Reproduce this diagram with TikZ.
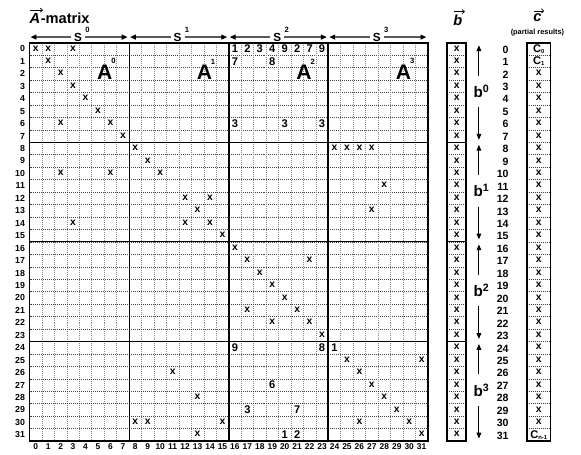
\documentclass[tikz,border=0pt]{standalone}
\usepackage{fontspec}
\setmainfont{Liberation Sans}
\usetikzlibrary{arrows.meta,positioning,calc}

\tikzset{
  entry/.style={font=\fontsize{8.8}{8.8}\selectfont\bfseries, inner sep=0pt},
  digit/.style={font=\fontsize{9.5}{9.5}\selectfont\bfseries, inner sep=0pt},
  colidx/.style={font=\fontsize{7.2}{7.2}\selectfont\bfseries, inner sep=0pt},
  rowidx/.style={font=\fontsize{7.5}{7.5}\selectfont\bfseries, inner sep=0pt, anchor=east},
  vecidx/.style={font=\fontsize{9}{9}\selectfont\bfseries, inner sep=0pt, anchor=east},
  title/.style={font=\fontsize{12.5}{12.5}\selectfont\bfseries, inner sep=0pt, anchor=base},
  supnum/.style={font=\fontsize{6.5}{6.5}\selectfont\bfseries, inner sep=0pt},
  slabel/.style={font=\fontsize{10}{10}\selectfont\bfseries, inner xsep=2.5pt, inner ysep=0pt},
  biga/.style={font=\fontsize{18}{18}\selectfont\bfseries, inner sep=0pt},
  blabel/.style={font=\fontsize{13}{13}\selectfont\bfseries, inner sep=0pt, minimum height=0.93cm},
  hdots/.style={black!75, line width=0.45pt, dash pattern=on 0.6pt off 1.1pt},
  vdots/.style={black!45, line width=0.45pt, dash pattern=on 0.6pt off 1.1pt},
  thinrule/.style={black, line width=0.7pt},
  thickrule/.style={black, line width=1.4pt},
  sarrow/.style={black!65, line width=1.1pt, -{Triangle[length=5pt,width=4.2pt,color=black]}},
  barrow/.style={black, line width=0.8pt, -{Triangle[length=5pt,width=4pt]}},
  vecarrow/.style={black, line width=0.6pt, -{To[length=2.5pt,width=4pt]}},
}

\begin{document}
\begin{tikzpicture}[x=0.3735cm, y=-0.3735cm]
    \useasboundingbox (-2.37,-3.43) rectangle (44.30,33.04);

    % dotted cell grid of the matrix
    \foreach \i in {1,...,31} {
        \draw[vdots] (\i,0) -- (\i,32);
        \draw[hdots] (0,\i) -- (32,\i);
    }
    % block rules
    \foreach \i in {8,16,24}
        \draw[thinrule] (0,\i) -- (32,\i);
    \draw[thinrule] (8,0) -- (8,32);
    \draw[thickrule] (16,0) -- (16,32);
    \draw[thickrule] (24,0) -- (24,32);
    \draw[thickrule] (0,0) rectangle (32,32);

    % row and column numbers
    \foreach \r in {0,...,31}
        \node[rowidx] (row\r) at (-0.35,\r+0.5) {\r};
    \foreach \c in {0,...,31}
        \node[colidx] (col\c) at (\c+0.5,32.45) {\c};

    % nonzero entries
    \foreach \c/\r in {0/0,1/0,3/0,1/1,2/2,3/3,4/4,5/5,2/6,6/6,7/7,
        8/8,24/8,25/8,26/8,27/8,9/9,2/10,6/10,10/10,28/11,12/12,14/12,
        13/13,27/13,3/14,12/14,14/14,15/15,16/16,17/17,22/17,18/18,19/19,
        20/20,17/21,21/21,19/22,22/22,23/23,25/25,31/25,11/26,26/26,27/27,
        13/28,28/28,29/29,8/30,9/30,15/30,26/30,30/30,13/31,31/31}
        \node[entry] (e-\c-\r) at (\c+0.5,\r+0.45) {x};
    \foreach \c/\r/\v in {16/0/1,17/0/2,18/0/3,19/0/4,20/0/9,21/0/2,22/0/7,
        23/0/9,16/1/7,19/1/8,16/6/3,20/6/3,23/6/3,16/24/9,23/24/8,24/24/1,
        19/27/6,17/29/3,21/29/7,20/31/1,21/31/2}
        \node[digit] (n-\c-\r) at (\c+0.5,\r+0.5) {\v};

    % sub-matrix names and column slices
    \foreach \k in {0,...,3} {
        \node[biga, label={[supnum, anchor=south, label distance=1pt]north east:\k}]
            (a\k) at (8*\k+6.05,2.4) {A};
        \node[slabel, label={[supnum, anchor=south west, label distance=0pt]north east:\k}]
            (s\k) at (8*\k+3.9,-0.45) {S};
        \coordinate (sl\k) at (8*\k+0.08,-0.45);
        \coordinate (sr\k) at (8*\k+7.88,-0.45);
        \draw[sarrow] (s\k.west) -- (sl\k);
        \draw[sarrow] (s\k.east) -- (sr\k);
    }

    % titles
    \node[title, anchor=base west, font=\fontsize{12.5}{12.5}\selectfont\bfseries\itshape] (amat) at (0,-1.58) {A};
    \node[title, anchor=base west] (mtx) at (amat.base east) {-matrix};
    \node[title, font=\fontsize{12.5}{12.5}\selectfont\bfseries\itshape] (bvec) at (34.4,-1.42) {b};
    \node[title, font=\fontsize{12.5}{12.5}\selectfont\bfseries\itshape] (cvec) at (40.8,-1.69) {c};
    \foreach \v in {amat,bvec,cvec}
        \draw[vecarrow] ([xshift=0.5pt,yshift=2.2pt]\v.north west) -- ([xshift=2pt,yshift=2.2pt]\v.north east);
    \node[font=\fontsize{6.3}{6.3}\selectfont\bfseries, inner sep=0pt] (part) at (40.8,-0.78) {(partial results)};

    % vector b
    \foreach \i in {1,...,31}
        \draw[hdots] (33.56,\i) -- (35.06,\i);
    \foreach \i in {8,16,24}
        \draw[thinrule] (33.56,\i) -- (35.06,\i);
    \draw[thickrule] (33.56,0) rectangle (35.06,32);
    \foreach \r in {0,...,31}
        \node[entry] (b-\r) at (34.31,\r+0.45) {x};

    % slices of b
    \foreach \k in {0,...,3} {
        \node[blabel] (bk\k) at (36.3,8*\k+3.9) {b\textsuperscript{\k}};
        \coordinate (bt\k) at (36.1,8*\k+0.2);
        \coordinate (bb\k) at (36.1,8*\k+7.8);
        \draw[barrow] (bk\k.north -| bt\k) -- (bt\k);
        \draw[barrow] (bk\k.south -| bb\k) -- (bb\k);
    }

    % element numbers
    \foreach \r in {0,...,31}
        \node[vecidx] (idx\r) at (38.5,\r+0.55) {\r};

    % vector c
    \foreach \i in {1,...,31}
        \draw[hdots] (39.94,\i) -- (41.86,\i);
    \draw[thickrule] (39.94,0) rectangle (41.86,32);
    \foreach \r in {2,...,30}
        \node[entry] (c-\r) at (40.9,\r+0.45) {x};
    \node[digit] (c-0) at (40.9,0.5) {C\raisebox{-0.2ex}{\fontsize{5}{5}\selectfont 0}};
    \node[digit] (c-1) at (40.9,1.5) {C\raisebox{-0.2ex}{\fontsize{5}{5}\selectfont 1}};
    \node[digit] (c-31) at (40.9,31.5) {C\raisebox{-0.2ex}{\fontsize{5}{5}\selectfont n-1}};
\end{tikzpicture}
\end{document}
